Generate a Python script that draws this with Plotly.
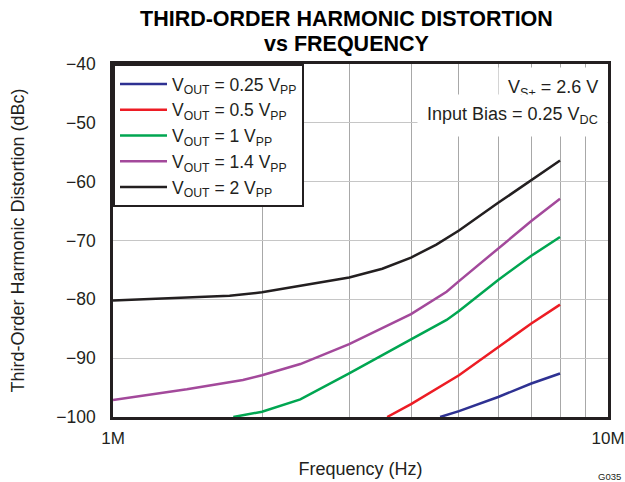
import plotly.graph_objects as go

# Frequencies in Hz, values in dBc
freq_025 = [4.58e6, 5.0e6, 6.0e6, 7.0e6, 8.0e6]
thd_025 = [-100.0, -99.0, -96.6, -94.3, -92.6]

freq_05 = [3.58e6, 4.0e6, 5.0e6, 6.0e6, 7.0e6, 8.0e6]
thd_05 = [-100.0, -97.8, -92.9, -88.1, -84.1, -80.9]

freq_1 = [1.75e6, 2.0e6, 2.39e6, 3.0e6, 4.0e6, 4.72e6, 5.0e6, 6.0e6, 7.0e6, 8.0e6]
thd_1 = [-100.0, -99.1, -97.0, -92.6, -86.8, -83.5, -82.0, -76.7, -72.6, -69.4]

freq_14 = [1.0e6, 1.41e6, 1.83e6, 2.0e6, 2.39e6, 3.0e6, 4.0e6, 4.72e6, 5.0e6, 6.0e6, 7.0e6, 8.0e6]
thd_14 = [-97.1, -95.3, -93.7, -92.9, -91.0, -87.6, -82.5, -78.7, -76.9, -71.3, -66.7, -62.9]

freq_2 = [1.0e6, 1.5e6, 1.72e6, 2.0e6, 2.39e6, 3.0e6, 3.5e6, 4.0e6, 4.5e6, 5.0e6, 6.0e6, 7.0e6, 8.0e6]
thd_2 = [-80.2, -79.6, -79.4, -78.8, -77.7, -76.3, -74.8, -72.9, -70.7, -68.3, -63.6, -59.8, -56.4]

series_names = [
    "V<sub>OUT</sub> = 0.25 V<sub>PP</sub>",
    "V<sub>OUT</sub> = 0.5 V<sub>PP</sub>",
    "V<sub>OUT</sub> = 1 V<sub>PP</sub>",
    "V<sub>OUT</sub> = 1.4 V<sub>PP</sub>",
    "V<sub>OUT</sub> = 2 V<sub>PP</sub>",
]
series_colors = ["#2e3192", "#ed1c24", "#00a651", "#a3499b", "#231f20"]

x_tickvals = [1e6, 2e6, 3e6, 4e6, 5e6, 6e6, 7e6, 8e6, 9e6, 1e7]
x_ticktext = ["1M", "", "", "", "", "", "", "", "", "10M"]
y_tickvals = [-100, -90, -80, -70, -60, -50, -40]

title_lines = ["THIRD-ORDER HARMONIC DISTORTION", "vs FREQUENCY"]

FONT = "Liberation Sans, Arial, Helvetica, sans-serif"
INK = "#231f20"

fig = go.Figure()
for fx, fy, name, col in zip(
    [freq_025, freq_05, freq_1, freq_14, freq_2],
    [thd_025, thd_05, thd_1, thd_14, thd_2],
    series_names,
    series_colors,
):
    fig.add_trace(go.Scatter(x=fx, y=fy, mode="lines", name=name,
                             line=dict(color=col, width=2.5)))

fig.update_layout(
    width=625, height=482,
    margin=dict(l=113, r=17, t=64, b=65, autoexpand=False),
    paper_bgcolor="white", plot_bgcolor="white",
    font=dict(family=FONT, size=17, color=INK),
    showlegend=True,
    legend=dict(
        x=0, y=1, xanchor="left", yanchor="top",
        bgcolor="white", bordercolor=INK, borderwidth=2,
        font=dict(family=FONT, size=17.5, color=INK),
        traceorder="normal", itemwidth=47,
    ),
    xaxis=dict(
        type="log", range=[6, 7], automargin=False,
        tickmode="array", tickvals=x_tickvals, ticktext=x_ticktext,
        showgrid=True, gridcolor="#a8a8a8", gridwidth=1.2,
        showline=True, mirror=True, linecolor=INK, linewidth=2.5,
        ticks="", ticklabelstandoff=4,
        tickfont=dict(family=FONT, size=17, color=INK),
        title=dict(text="Frequency (Hz)", standoff=16,
                   font=dict(family=FONT, size=18, color=INK)),
        zeroline=False,
    ),
    yaxis=dict(
        range=[-100, -40], automargin=False,
        tickmode="array", tickvals=y_tickvals,
        showgrid=True, gridcolor="#c6c6c6", gridwidth=1.2,
        showline=True, mirror=True, linecolor=INK, linewidth=2.5,
        ticks="", ticklabelstandoff=11,
        tickfont=dict(family=FONT, size=17.5, color=INK),
        title=dict(text="Third-Order Harmonic Distortion (dBc)", standoff=28,
                   font=dict(family=FONT, size=18, color=INK)),
        zeroline=False,
    ),
)

# Two-line bold title
for line, ypix in zip(title_lines, [19.5, 44.5]):
    fig.add_annotation(
        text="<b>" + line + "</b>", xref="paper", yref="paper",
        x=(346 - 113) / 495, y=(417 - ypix) / 353,
        xanchor="center", yanchor="middle", showarrow=False,
        font=dict(family=FONT, size=21.5, color="black"),
    )

fig.add_annotation(
    text="V<sub>S+</sub> = 2.6 V", xref="paper", yref="paper",
    x=1, y=(417 - 88) / 353, xanchor="right", yanchor="middle",
    showarrow=False, bgcolor="white", borderpad=9,
    font=dict(family=FONT, size=18, color=INK),
)
fig.add_annotation(
    text="Input Bias = 0.25 V<sub>DC</sub>", xref="paper", yref="paper",
    x=1, y=(417 - 115) / 353, xanchor="right", yanchor="middle",
    showarrow=False, bgcolor="white", borderpad=9,
    font=dict(family=FONT, size=18, color=INK),
)
fig.add_annotation(
    text="G035", xref="paper", yref="paper",
    x=(623 - 113) / 495, y=(417 - 477) / 353, xanchor="right", yanchor="middle",
    showarrow=False, font=dict(family=FONT, size=9.5, color=INK),
)

fig.write_html("out.html", config={"displayModeBar": False},
               post_script="document.body.style.margin='0';")
